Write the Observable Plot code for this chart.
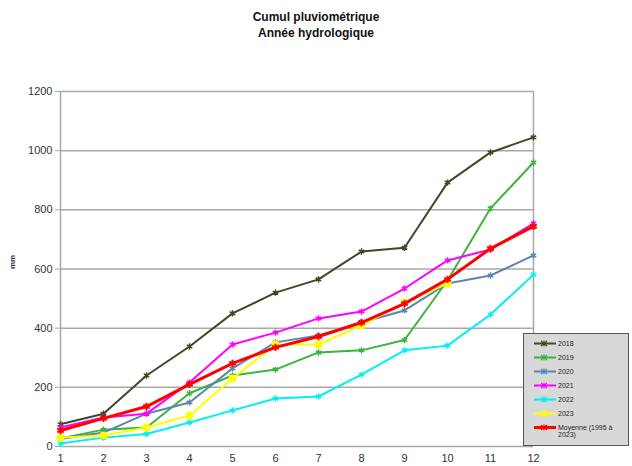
<!DOCTYPE html>
<html>
<head>
<meta charset="utf-8">
<script src="https://cdn.jsdelivr.net/npm/d3@7"></script>
<script src="https://cdn.jsdelivr.net/npm/@observablehq/plot@0.6"></script>
<style>
  body { margin: 0; background: #fff; font-family: "Liberation Sans", Arial, sans-serif; }
  #wrap { position: relative; width: 632px; height: 466px; }
  #title { position: absolute; left: 0; width: 632px; top: 9px; text-align: center; font-weight: bold; font-size: 12px; line-height: 16px; color: #111; }
  #legend { position: absolute; left: 523px; top: 333px; width: 106px; height: 113px; background: #d8d8d8; border: 1px solid #555; box-sizing: border-box; font-size: 7px; color: #222; }
  .row { position: absolute; left: 10px; display: flex; align-items: flex-start; }
  .row svg { flex: none; }
  .row span { margin-left: 2px; line-height: 7px; }
</style>
</head>
<body>
<div id="wrap">
  <div id="title">Cumul pluviométrique<br>Année hydrologique</div>
  <div id="chart"></div>
  <div id="legend"></div>
</div>
<script>
const months = [1,2,3,4,5,6,7,8,9,10,11,12];
const seriesNames = ["2018","2019","2020","2021","2022","2023","Moyenne (1995 à 2023)"];
const colors = ["#3e4a22","#3cb43c","#5b86b4","#ff00ff","#00f0f0","#ffff00","#ff0000"];
const v2018 = [75,111,240,338,450,520,565,659,672,892,994,1045];
const v2019 = [27,57,64,180,240,260,318,325,360,561,805,960];
const v2020 = [25,47,111,149,264,352,375,419,460,551,578,646];
const v2021 = [64,98,111,216,345,385,433,456,534,629,666,754];
const v2022 = [10,30,42,81,122,162,169,243,325,341,446,581];
const v2023 = [30,37,64,105,230,345,345,409,487,551];
const vMoy  = [54,95,135,210,281,335,372,419,483,565,669,744];
const yTicks = [0,200,400,600,800,1000,1200];

const allValues = [v2018,v2019,v2020,v2021,v2022,v2023,vMoy];
const data = [];
allValues.forEach((vals, i) => vals.forEach((v, j) => data.push({series: seriesNames[i], month: months[j], value: v})));

const marks = [
  Plot.ruleY(yTicks, {stroke: "#a8a8a8", strokeWidth: 1.5}),
  Plot.ruleX([1], {stroke: "#a8a8a8", strokeWidth: 1.5}),
  Plot.ruleX([12], {y1: 200, y2: 1200, stroke: "#a8a8a8", strokeWidth: 1.5}),
  Plot.axisY({ticks: yTicks, tickFormat: "d", tickSize: 5, tickPadding: 3, stroke: "#a8a8a8", fontSize: 11, color: "#333", label: null}),
  Plot.axisX({ticks: months, tickFormat: "d", tickSize: 0, tickPadding: 8, fontSize: 11, color: "#333", label: null}),
  Plot.text(["mm"], {frameAnchor: "left", dx: -48, rotate: -90, fontSize: 8, fontWeight: "bold", fill: "#333"})
];
seriesNames.forEach((name, i) => {
  const d = data.filter(r => r.series === name);
  const isMoy = i === 6;
  marks.push(Plot.line(d, {x: "month", y: "value", stroke: colors[i], strokeWidth: isMoy ? 3 : 2}));
  if (i === 5) {
    marks.push(Plot.dot(d, {x: "month", y: "value", fill: colors[i], r: 4, symbol: "circle"}));
  } else {
    marks.push(Plot.dot(d, {x: "month", y: "value", stroke: colors[i], r: isMoy ? 3.5 : 3, strokeWidth: isMoy ? 2 : 1.5, symbol: "asterisk"}));
  }
});

const chart = Plot.plot({
  width: 632,
  height: 466,
  marginTop: 91,
  marginBottom: 20,
  marginLeft: 60,
  marginRight: 99,
  x: {domain: [1, 12]},
  y: {domain: [0, 1200]},
  style: {fontFamily: "Liberation Sans, Arial, sans-serif", background: "transparent"},
  marks
});
document.getElementById("chart").appendChild(chart);

// Legend
const legend = document.getElementById("legend");
const tops = [6, 20, 34, 48, 62, 76, 90];
seriesNames.forEach((name, i) => {
  const row = document.createElement("div");
  row.className = "row";
  row.style.top = tops[i] + "px";
  const isMoy = i === 6;
  const sym = i === 5
    ? `<circle cx="10" cy="3.5" r="3" fill="${colors[i]}"/>`
    : `<path d="M7,1 L13,6 M13,1 L7,6 M10,0.5 L10,6.5" stroke="${colors[i]}" stroke-width="1.2"/>`;
  row.innerHTML = `<svg width="22" height="7"><line x1="0" x2="22" y1="3.5" y2="3.5" stroke="${colors[i]}" stroke-width="${isMoy ? 3 : 2}"/>${sym}</svg><span${isMoy ? ' style="width:60px"' : ''}>${name}</span>`;
  legend.appendChild(row);
});
</script>
</body>
</html>
